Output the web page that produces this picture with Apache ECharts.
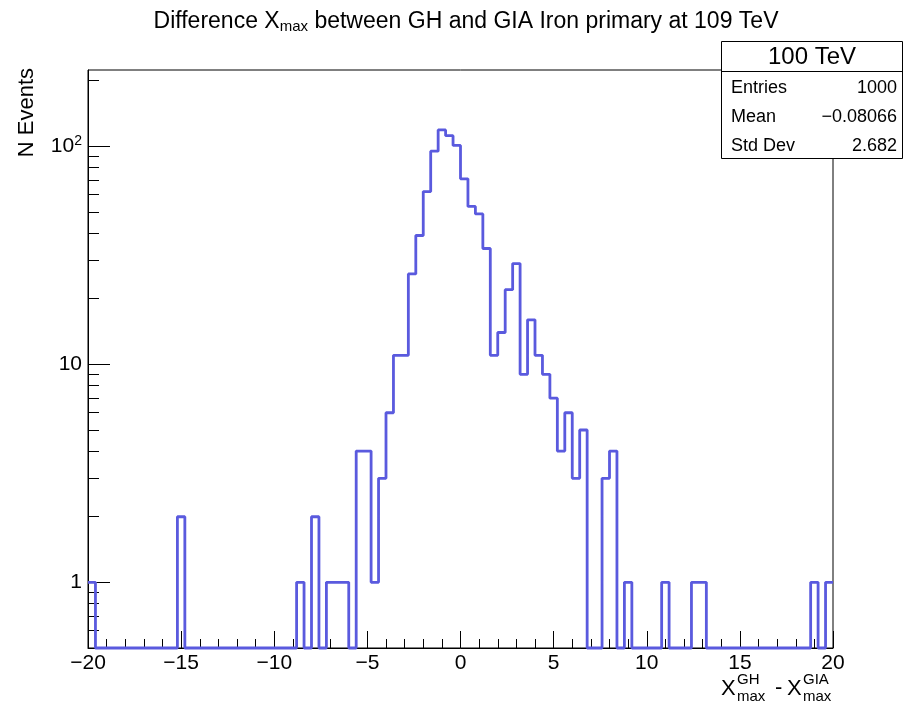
<!DOCTYPE html>
<html>
<head>
<meta charset="utf-8">
<script src="https://cdn.jsdelivr.net/npm/echarts@6/dist/echarts.min.js"></script>
<style>html,body{margin:0;padding:0;background:#fff}#c{width:904px;height:709px}</style>
</head>
<body>
<div id="c"></div>
<script>
// ---- data ----
const X_MIN = -20, X_MAX = 20, N_BINS = 100;
const counts = [
  1,0,0,0,0,0,0,0,0,0,
  0,0,2,0,0,0,0,0,0,0,
  0,0,0,0,0,0,0,0,1,0,
  2,0,1,1,1,0,4,4,1,3,
  6,11,11,26,39,62,95,119,112,101,
  71,53,49,34,11,14,22,29,9,16,
  11,9,7,4,6,3,5,0,0,3,
  4,0,1,0,0,0,0,1,0,0,
  0,1,1,0,0,0,0,0,0,0,
  0,0,0,0,0,0,0,1,0,1
];
const xTicks = [-20,-15,-10,-5,0,5,10,15,20];
const yMajorTicks = [1,10,100];
const yMinorTicks = [0.6,0.7,0.8,0.9,2,3,4,5,6,7,8,9,20,30,40,50,60,70,80,90,200];
const Y_MIN = 0.5, Y_MAX = 224;
const titleText = 'Difference X{sub|max} between GH and GIA Iron primary at 109 TeV';
const statsTitle = '100 TeV';
const statsLabels = ['Entries','Mean','Std Dev'];
const statsValues = ['1000','\u22120.08066','2.682'];

// ---- build ----
const bw = (X_MAX - X_MIN) / N_BINS;
const stepData = counts.map((c, i) => [X_MIN + i * bw, c > 0 ? c : Y_MIN]);
stepData.push([X_MAX, counts[N_BINS - 1] > 0 ? counts[N_BINS - 1] : Y_MIN]);

const FONT = '"Liberation Sans", Arial, Helvetica, sans-serif';
const chart = echarts.init(document.getElementById('c'), null, {renderer: 'canvas'});

const G = {left: 88, right: 71, top: 70, bottom: 61};

chart.setOption({
  animation: false,
  backgroundColor: '#fff',
  grid: {left: G.left, right: G.right, top: G.top, bottom: G.bottom, show: true, borderColor: '#000', borderWidth: 1, backgroundColor: 'transparent'},
  xAxis: {
    type: 'value', min: X_MIN, max: X_MAX, interval: 5,
    axisLine: {show: true, onZero: false, lineStyle: {color: '#000', width: 1}},
    axisTick: {show: true, inside: true, length: 17, lineStyle: {color: '#000'}},
    minorTick: {show: true, splitNumber: 5, length: 9, lineStyle: {color: '#000'}},
    splitLine: {show: false},
    axisLabel: {
      margin: 5, fontSize: 21, color: '#000', fontFamily: FONT,
      customValues: xTicks,
      formatter: v => String(v).replace('-', '\u2212')
    }
  },
  yAxis: [{
    type: 'log', logBase: 10, min: Y_MIN, max: Y_MAX, position: 'left',
    axisLine: {show: true, onZero: false, lineStyle: {color: '#000', width: 1}},
    axisTick: {show: true, inside: true, length: 22, lineStyle: {color: '#000'}, customValues: yMajorTicks},
    splitLine: {show: false},
    minorTick: {show: false},
    axisLabel: {
      margin: 6, fontSize: 21, color: '#000', fontFamily: FONT,
      customValues: yMajorTicks,
      formatter: v => {
        const e = Math.round(Math.log10(v));
        return e >= 2 ? '10{sup|' + e + '}' : String(Math.round(v));
      },
      rich: {sup: {fontSize: 14, verticalAlign: 'top', color: '#000', fontFamily: FONT, padding: [0,0,10,0]}}
    }
  }, {
    type: 'log', logBase: 10, min: Y_MIN, max: Y_MAX, position: 'left',
    axisLine: {show: false, onZero: false},
    axisTick: {show: true, inside: true, length: 11, lineStyle: {color: '#000'}, customValues: yMinorTicks},
    axisLabel: {show: false},
    splitLine: {show: false}
  }],
  series: [{
    type: 'line', step: 'end', data: stepData, showSymbol: false, symbol: 'none',
    clip: false, z: 3,
    lineStyle: {color: '#5a5ade', width: 2.8}
  }],
  graphic: [
    {type: 'text', x: 466, y: 22, z: 10,
     style: {text: titleText, fontSize: 23, fontFamily: FONT, fill: '#000', align: 'center', verticalAlign: 'middle',
       rich: {sub: {fontSize: 15, verticalAlign: 'bottom', fontFamily: FONT, fill: '#000', padding: [9,0,0,0]}}}},
    {type: 'text', x: 27, y: 68, rotation: Math.PI / 2, z: 10,
     style: {text: 'N Events', fontSize: 22, fontFamily: FONT, fill: '#000', align: 'right', verticalAlign: 'middle'}},
    // x-axis title
    {type: 'text', x: 721, y: 689, z: 10, style: {text: 'X', fontSize: 22, fontFamily: FONT, fill: '#000', align: 'left', verticalAlign: 'middle'}},
    {type: 'text', x: 737, y: 680, z: 10, style: {text: 'GH', fontSize: 15, fontFamily: FONT, fill: '#000', align: 'left', verticalAlign: 'middle'}},
    {type: 'text', x: 737, y: 697, z: 10, style: {text: 'max', fontSize: 15, fontFamily: FONT, fill: '#000', align: 'left', verticalAlign: 'middle'}},
    {type: 'text', x: 775, y: 688, z: 10, style: {text: '-', fontSize: 22, fontFamily: FONT, fill: '#000', align: 'left', verticalAlign: 'middle'}},
    {type: 'text', x: 787, y: 689, z: 10, style: {text: 'X', fontSize: 22, fontFamily: FONT, fill: '#000', align: 'left', verticalAlign: 'middle'}},
    {type: 'text', x: 803, y: 680, z: 10, style: {text: 'GIA', fontSize: 15, fontFamily: FONT, fill: '#000', align: 'left', verticalAlign: 'middle'}},
    {type: 'text', x: 803, y: 697, z: 10, style: {text: 'max', fontSize: 15, fontFamily: FONT, fill: '#000', align: 'left', verticalAlign: 'middle'}},
    // stats box
    {type: 'rect', z: 20, shape: {x: 721.5, y: 41.5, width: 181, height: 117}, style: {fill: '#fff', stroke: '#000', lineWidth: 1}},
    {type: 'line', z: 21, shape: {x1: 721.5, y1: 71.5, x2: 902.5, y2: 71.5}, style: {stroke: '#000', lineWidth: 1}},
    {type: 'text', z: 22, x: 812, y: 57, style: {text: statsTitle, fontSize: 24, fontFamily: FONT, fill: '#000', align: 'center', verticalAlign: 'middle'}},
    ...statsLabels.map((t, i) => ({type: 'text', z: 22, x: 731, y: 88 + i * 29, style: {text: t, fontSize: 18, fontFamily: FONT, fill: '#000', align: 'left', verticalAlign: 'middle'}})),
    ...statsValues.map((t, i) => ({type: 'text', z: 22, x: 897, y: 88 + i * 29, style: {text: t, fontSize: 18, fontFamily: FONT, fill: '#000', align: 'right', verticalAlign: 'middle'}}))
  ]
});
</script>
</body>
</html>
